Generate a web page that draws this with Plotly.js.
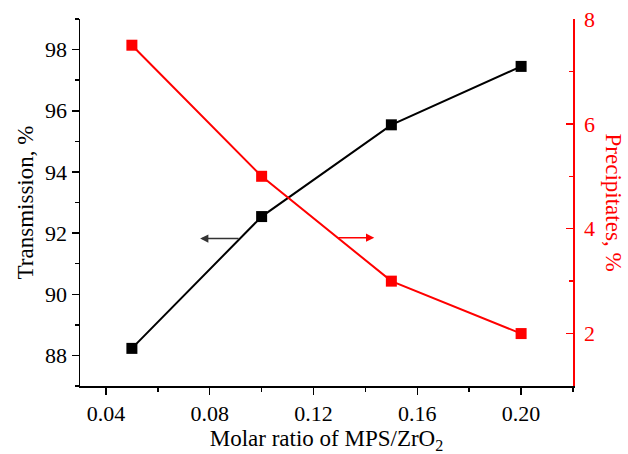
<!DOCTYPE html>
<html>
<head>
<meta charset="utf-8">
<script src="https://cdn.plot.ly/plotly-3.0.1.min.js"></script>
<style>
  html, body { margin: 0; padding: 0; background: #fff; }
  #chart { width: 628px; height: 454px; }
</style>
</head>
<body>
<div id="chart"></div>
<script>
// Molar ratio of MPS to ZrO2
const ratio = [0.05, 0.10, 0.15, 0.20];
// Optical transmission of the dispersion, %
const transmission = [88.23, 92.54, 95.54, 97.45];
// Amount of precipitates, %
const precipitates = [7.5, 5.0, 3.0, 2.0];

const xTicks = [0.04, 0.08, 0.12, 0.16, 0.20];
const xTickText = ['0.04', '0.08', '0.12', '0.16', '0.20'];
const leftTicks = [88, 90, 92, 94, 96, 98];
const rightTicks = [2, 4, 6, 8];

const RED = '#ff0000';
const FONT = 'Liberation Serif, Times New Roman, serif';
const TICK_SIZE = 22;
const TITLE_SIZE = 23;

const traces = [
  {
    x: ratio, y: transmission, xaxis: 'x', yaxis: 'y',
    mode: 'lines+markers', type: 'scatter',
    line: { color: '#000', width: 2 },
    marker: { symbol: 'square', size: 11, color: '#000' },
    hoverinfo: 'skip'
  },
  {
    x: ratio, y: precipitates, xaxis: 'x', yaxis: 'y2',
    mode: 'lines+markers', type: 'scatter',
    line: { color: RED, width: 2 },
    marker: { symbol: 'square', size: 11, color: RED },
    hoverinfo: 'skip'
  }
];

const xRange = [0.03, 0.22];

const layout = {
  width: 628, height: 454,
  margin: { l: 80, r: 55, t: 19, b: 68 },
  paper_bgcolor: '#fff', plot_bgcolor: '#fff',
  showlegend: false,
  font: { family: FONT, size: TICK_SIZE, color: '#000' },
  xaxis: {
    range: xRange, tickvals: xTicks, ticktext: xTickText,
    ticks: 'outside', ticklen: 7, tickwidth: 1.5, tickcolor: '#000',
    minor: { dtick: 0.02, tick0: 0.04, ticks: 'outside', ticklen: 4, tickwidth: 1.5, tickcolor: '#000', showgrid: false },
    showline: true, linecolor: '#000', linewidth: 1.5,
    showgrid: false, zeroline: false,
    tickfont: { family: FONT, size: TICK_SIZE, color: '#000' },
    title: { text: 'Molar ratio of MPS/ZrO<sub>2</sub>', font: { family: FONT, size: TITLE_SIZE, color: '#000' }, standoff: 6 }
  },
  xaxis2: {
    overlaying: 'x', side: 'top', anchor: 'y', matches: 'x',
    range: xRange, tickvals: xTicks, showticklabels: false,
    ticks: 'inside', ticklen: 7, tickwidth: 1.5, tickcolor: '#000',
    minor: { dtick: 0.02, tick0: 0.04, ticks: 'inside', ticklen: 4, tickwidth: 1.5, tickcolor: '#000', showgrid: false },
    showline: true, linecolor: '#000', linewidth: 1.5,
    showgrid: false, zeroline: false
  },
  yaxis: {
    range: [87, 99], tickvals: leftTicks,
    ticks: 'outside', ticklen: 7, tickwidth: 1.5, tickcolor: '#000',
    minor: { dtick: 1, tick0: 87, ticks: 'outside', ticklen: 4, tickwidth: 1.5, tickcolor: '#000', showgrid: false },
    showline: true, linecolor: '#000', linewidth: 1.5,
    showgrid: false, zeroline: false,
    tickfont: { family: FONT, size: TICK_SIZE, color: '#000' },
    title: { text: 'Transmission, %', font: { family: FONT, size: TITLE_SIZE, color: '#000' }, standoff: 5 }
  },
  yaxis2: {
    overlaying: 'y', side: 'right', anchor: 'x',
    range: [1, 8], tickvals: rightTicks,
    ticks: 'inside', ticklen: 7, tickwidth: 1.5, tickcolor: RED,
    minor: { dtick: 1, tick0: 1, ticks: 'inside', ticklen: 4, tickwidth: 1.5, tickcolor: RED, showgrid: false },
    showline: true, linecolor: RED, linewidth: 1.5,
    showgrid: false, zeroline: false,
    ticklabelstandoff: 5,
    tickfont: { family: FONT, size: TICK_SIZE, color: RED }
  },
  annotations: [
    {
      // right axis title, reading top to bottom
      text: 'Precipitates, %', textangle: 90,
      xref: 'paper', yref: 'paper', x: 1.083, y: 0.5,
      xanchor: 'center', yanchor: 'middle', showarrow: false,
      font: { family: FONT, size: TITLE_SIZE, color: RED }
    },
    {
      // arrow pointing to the transmission axis
      xref: 'x', yref: 'y', axref: 'x', ayref: 'y',
      x: 0.0763, y: 91.82, ax: 0.0917, ay: 91.82,
      text: '', showarrow: true, arrowhead: 2, arrowsize: 1.1, arrowwidth: 1.5,
      arrowcolor: '#333'
    },
    {
      // arrow pointing to the precipitates axis
      xref: 'x', yref: 'y', axref: 'x', ayref: 'y',
      x: 0.1434, y: 91.85, ax: 0.129, ay: 91.85,
      text: '', showarrow: true, arrowhead: 2, arrowsize: 1.1, arrowwidth: 1.5,
      arrowcolor: RED
    }
  ]
};

Plotly.newPlot('chart', traces, layout, { staticPlot: true, displayModeBar: false });
</script>
</body>
</html>
